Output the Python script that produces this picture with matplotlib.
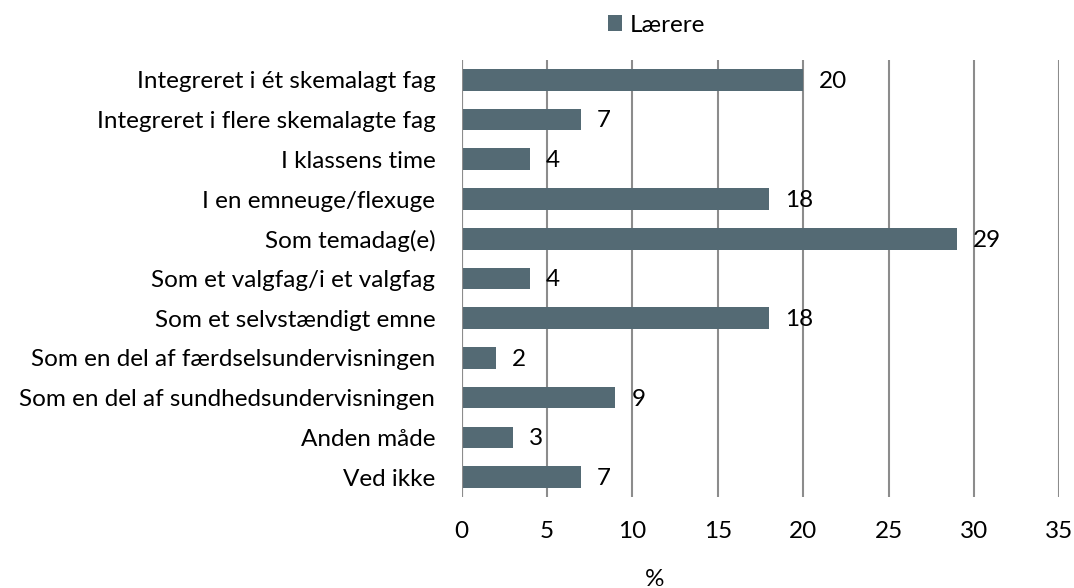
import matplotlib.pyplot as plt

categories = [
    "Integreret i ét skemalagt fag",
    "Integreret i flere skemalagte fag",
    "I klassens time",
    "I en emneuge/flexuge",
    "Som temadag(e)",
    "Som et valgfag/i et valgfag",
    "Som et selvstændigt emne",
    "Som en del af færdselsundervisningen",
    "Som en del af sundhedsundervisningen",
    "Anden måde",
    "Ved ikke",
]
values = [20, 7, 4, 18, 29, 4, 18, 2, 9, 3, 7]
xticks = [0, 5, 10, 15, 20, 25, 30, 35]
series_name = "Lærere"

plt.rcParams['font.family'] = ['Lato', 'DejaVu Sans']
bar_color = '#546A74'
grid_color = '#8c8c8c'
fs = 17.5

fig = plt.figure(figsize=(10.74, 5.88), dpi=100)
ax = fig.add_axes([0.4299, 0.1548, 0.5564, 0.7432])

pos = list(range(len(categories)))
ax.barh(pos, values, height=0.545, color=bar_color, label=series_name, zorder=3)

for p, v in zip(pos, values):
    ax.annotate(str(v), (v, p), xytext=(11.5, -1), textcoords='offset points',
                va='center', ha='left', fontsize=fs)

ax.set_xlim(0, 35)
ax.set_ylim(len(categories) - 0.5, -0.5)
ax.set_xticks(xticks)
ax.set_yticks(pos)
ax.set_yticklabels(categories, fontsize=fs)
ax.tick_params(axis='x', labelsize=fs, length=0, pad=17)
ax.tick_params(axis='y', length=0, pad=19)

ax.grid(axis='x', color=grid_color, linewidth=1.5, zorder=0)
for s in ['top', 'right', 'bottom', 'left']:
    ax.spines[s].set_visible(False)
ax.axvline(0, color=grid_color, linewidth=1.5, zorder=4)

ax.set_xlabel('%', fontsize=fs)
ax.xaxis.set_label_coords(0.322, -0.165)

fig.legend(loc='center', bbox_to_anchor=(0.611, 0.957), frameon=False, fontsize=fs,
           handlelength=0.6, handleheight=0.6, handletextpad=0.3)

plt.savefig('out.png', dpi=100)
